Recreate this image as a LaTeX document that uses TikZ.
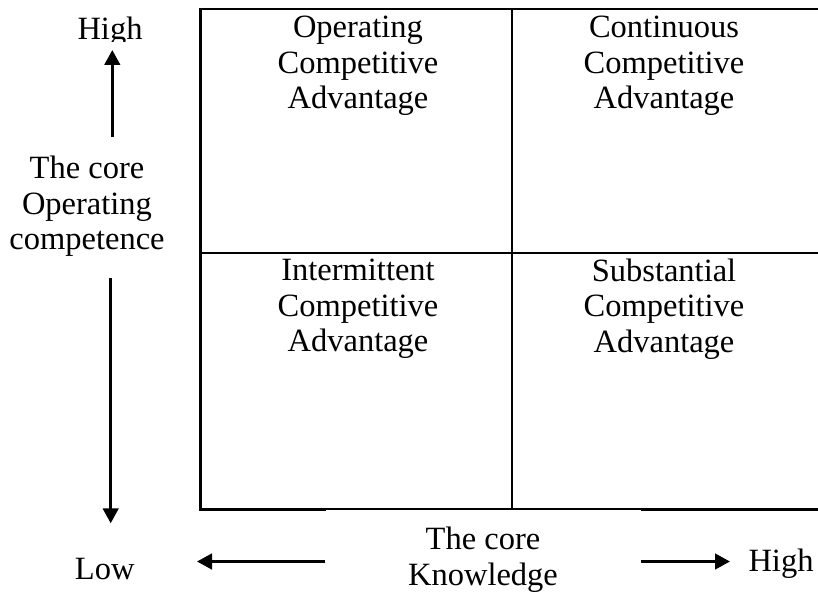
\documentclass[tikz,border=0pt]{standalone}
\usepackage{fontspec}
\setmainfont{Liberation Serif}
\usetikzlibrary{arrows.meta}
\begin{document}
\begin{tikzpicture}[x=1pt,y=-1pt,
  txt/.style={inner sep=0pt, align=center, font=\fontsize{32.5}{35.5}\selectfont},
  gridline/.style={line width=2.7pt},
  arr/.style={line width=3pt, -{Triangle[length=15pt,width=15.5pt]}}]
\useasboundingbox (0,0) rectangle (818,591);
% grid
\draw[gridline] (830,9) -- (200.7,9) -- (200.7,509.3) -- (830,509.3);
\draw[gridline] (512,9) -- (512,509.3);
\draw[gridline] (200.7,253) -- (830,253);
% cell texts
\node[txt] (tl) at (358,66) {Operating\\Competitive\\Advantage};
\node[txt] (tr) at (664,66) {Continuous\\Competitive\\Advantage};
\node[txt] (bl) at (358,309) {Intermittent\\Competitive\\Advantage};
\node[txt] (br) at (664,309) {Substantial\\Competitive\\Advantage};
% vertical axis
\begin{scope}
\clip (50,0) rectangle (170,42);
\node[txt] (hitop) at (110,32) {High};
\end{scope}
\node[txt] (lc) at (87,206.5) {The core\\Operating\\competence};
\node[txt] (low) at (104.7,569.2) {Low};
\coordinate (upt) at (112.3,136.7);
\coordinate (uph) at (112.3,50);
\coordinate (dnt) at (110.7,278.3);
\coordinate (dnh) at (110.7,523.3);
\draw[arr] (upt) -- (uph);
\draw[arr] (dnt) -- (dnh);
% horizontal axis
\fill[white] (325.5,509.5) rectangle (640.5,591);
\node[txt, minimum width=315pt] (kl) at (483,559.5) {The core\\Knowledge};
\node[txt] (hiright) at (781,564) {High};
\coordinate (lth) at (197,561.5);
\coordinate (rth) at (730,561.5);
\draw[arr] (kl.west |- lth) -- (lth);
\draw[arr] (kl.east |- rth) -- (rth);
\end{tikzpicture}
\end{document}
